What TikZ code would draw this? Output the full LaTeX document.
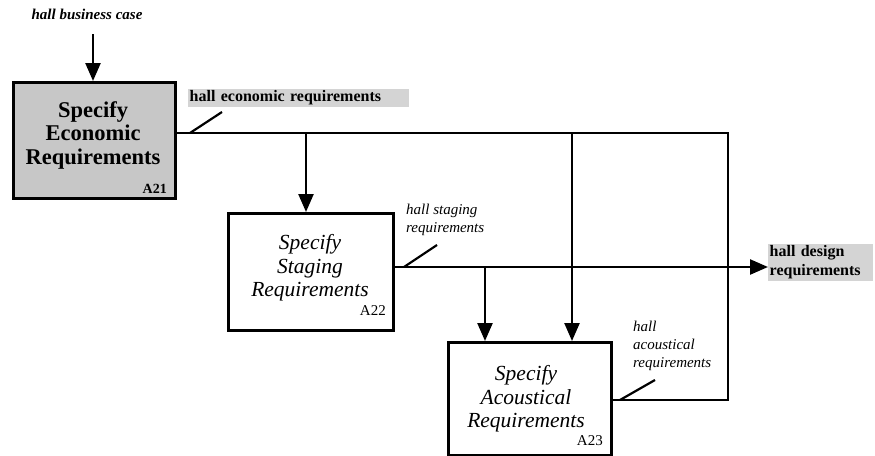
\documentclass[tikz,border=0pt]{standalone}
\usepackage{fontspec}
\setmainfont{Liberation Serif}
\usetikzlibrary{arrows.meta}
\begin{document}
\begin{tikzpicture}[x=1pt,y=-1pt,
  actbox/.style={draw=black,line width=2.8pt,inner sep=0pt,anchor=north west},
  flow/.style={line width=2.4pt},
  arr/.style={flow,-{Triangle[length=18pt,width=15pt]}},
  tick/.style={line width=2.2pt},
  boxtext/.style={align=center,inner sep=0pt},
  code/.style={font=\fontsize{15}{16}\selectfont,inner sep=0pt,anchor=south east},
  note/.style={align=left,font=\fontsize{15}{18}\selectfont\itshape,inner sep=0pt,anchor=north west},
  outlabel/.style={align=left,font=\fontsize{16}{19}\selectfont\bfseries,fill=black!17,inner sep=1.5pt,anchor=north west}]
\useasboundingbox (0,0) rectangle (875,455);

% activity boxes
\node[actbox,fill=black!22,minimum width=162pt,minimum height=116pt] (a21) at (12,81) {};
\node[actbox,fill=white,minimum width=165pt,minimum height=117pt] (a22) at (227,212) {};
\node[actbox,fill=white,minimum width=163pt,minimum height=113pt] (a23) at (447,341) {};

\node[boxtext,font=\fontsize{22.5}{23.5}\selectfont\bfseries] (t21) at (93,135) {Specify\\Economic\\Requirements};
\node[boxtext,font=\fontsize{21.5}{23.5}\selectfont\itshape] (t22) at (310,268) {Specify\\Staging\\Requirements};
\node[boxtext,font=\fontsize{21.5}{23.5}\selectfont\itshape] (t23) at (526,399) {Specify\\Acoustical\\Requirements};

\node[code,font=\fontsize{14}{15}\selectfont\bfseries] (c21) at (167,194) {A21};
\node[code] (c22) at (386,316) {A22};
\node[code] (c23) at (603,446) {A23};

% input to A21
\node[font=\fontsize{15}{16}\selectfont\bfseries\itshape,inner sep=0pt] (bc) at (87,14) {hall business case};
\coordinate (bcTop) at (93,34);
\draw[arr] (bcTop) -- (bcTop |- a21.north);

% economic requirements line and its branches
\coordinate (eStart) at (174,133);
\coordinate (e1) at (306,133);
\coordinate (e2) at (572,133);
\coordinate (eR) at (728,133);
\coordinate (aR) at (728,400);
\coordinate (aStart) at (610,400);
\draw[flow] (eStart) -- (eR) -- (aR) -- (aStart);
\draw[arr] (e1) -- (e1 |- a22.north);
\draw[arr] (e2) -- (e2 |- a23.north);

% staging requirements line
\coordinate (sStart) at (392,267);
\coordinate (s1) at (485,267);
\node[outlabel,text width=102pt] (hdr) at (768,244) {hall design\\requirements};
\draw[arr] (sStart) -- (hdr.west |- sStart);
\draw[arr] (s1) -- (s1 |- a23.north);

% labels and leader ticks
\node[outlabel,text width=218pt] (her) at (188,89) {hall economic requirements};
\coordinate (k1a) at (190,133); \coordinate (k1b) at (222,112);
\draw[tick] (k1a) -- (k1b);

\node[note] (hsr) at (406,204) {hall staging\\requirements};
\coordinate (k2a) at (404,267); \coordinate (k2b) at (437,245);
\draw[tick] (k2a) -- (k2b);

\node[note] (har) at (633,321) {hall\\acoustical\\requirements};
\coordinate (k3a) at (620,400); \coordinate (k3b) at (655,380);
\draw[tick] (k3a) -- (k3b);
\end{tikzpicture}
\end{document}
